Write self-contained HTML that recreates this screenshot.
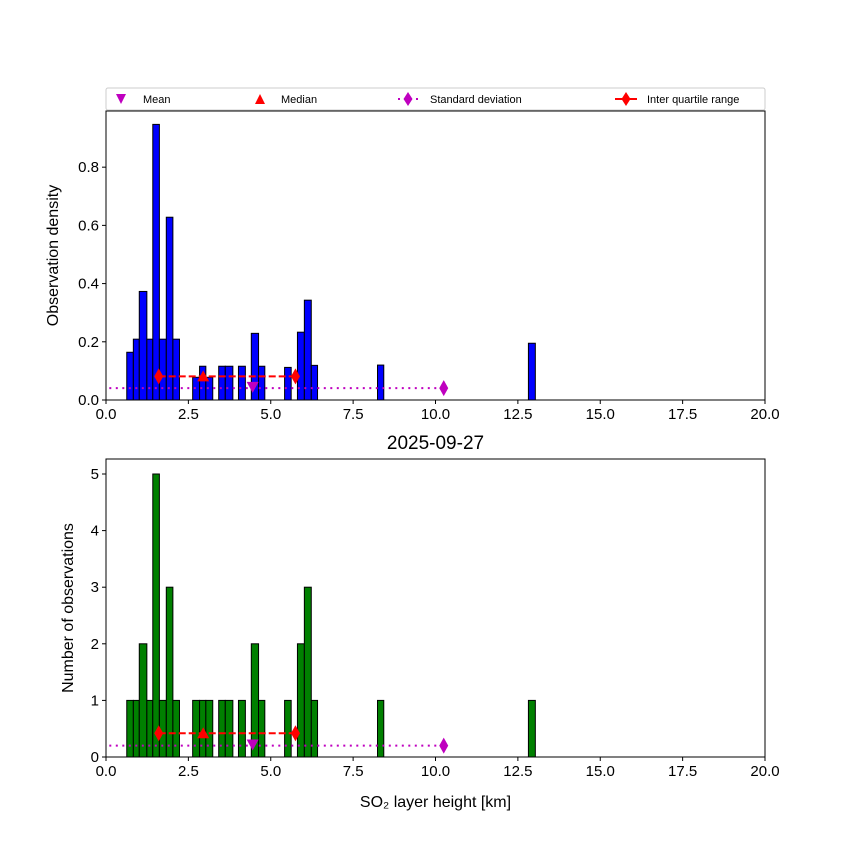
<!DOCTYPE html>
<html><head><meta charset="utf-8"><style>
html,body{margin:0;padding:0;background:#fff}
svg text{font-family:"Liberation Sans","DejaVu Sans",sans-serif}
</style></head><body>
<svg id="c" width="850" height="850" xmlns="http://www.w3.org/2000/svg"></svg>
<script>
const binLeft=[0.63,0.83,1.01,1.24,1.42,1.62,1.83,2.03,2.63,2.84,3.03,3.42,3.62,4.02,4.41,4.63,5.42,5.81,6.02,6.23,8.24,12.82];
const binRight=[0.83,1.01,1.24,1.42,1.62,1.83,2.03,2.23,2.84,3.03,3.24,3.62,3.85,4.23,4.63,4.82,5.62,6.02,6.23,6.42,8.43,13.03];
const counts=[1,1,2,1,5,1,3,1,1,1,1,1,1,1,2,1,1,2,3,1,1,1];
const density=[0.164,0.209,0.373,0.209,0.947,0.209,0.628,0.209,0.078,0.116,0.078,0.116,0.116,0.116,0.229,0.116,0.112,0.233,0.343,0.119,0.12,0.195];
const xTicks=[0,2.5,5,7.5,10,12.5,15,17.5,20];
const xTickLabels=["0.0","2.5","5.0","7.5","10.0","12.5","15.0","17.5","20.0"];
const topYTicks=[0,0.2,0.4,0.6,0.8];
const topYTickLabels=["0.0","0.2","0.4","0.6","0.8"];
const botYTicks=[0,1,2,3,4,5];
const botYTickLabels=["0","1","2","3","4","5"];
const statMean=4.45, statMedian=2.95, statQ1=1.6, statQ3=5.75, statStdStart=0.1, statStdEnd=10.25;
const topStatY={iqr:0.081,std:0.041,mean:0.045};
const botStatY={iqr:0.42,std:0.2,mean:0.22};

const svg=document.getElementById('c');
const NS='http://www.w3.org/2000/svg';
function mk(tag,attrs,parent){const e=document.createElementNS(NS,tag);for(const k in attrs)e.setAttribute(k,attrs[k]);(parent||svg).appendChild(e);return e;}
const X0=106,X1=765;
const xs=v=>X0+(v-0)/(20-0)*(X1-X0);

function panel(name,yTop,yBot,yMax,vals,color,yTicks,yLabels,ylabel,stat,ylx){
  const g=mk('g',{});
  
  
  const ys=v=>yBot-v/yMax*(yBot-yTop);
  for(let i=0;i<vals.length;i++){
    const r=mk('rect',{x:xs(binLeft[i]),y:ys(vals[i]),width:xs(binRight[i])-xs(binLeft[i]),height:yBot-ys(vals[i]),fill:color,stroke:'#000','stroke-width':1},g);
    
    
  }
  const sl=mk('line',{x1:xs(statStdStart),x2:xs(statStdEnd),y1:ys(stat.std),y2:ys(stat.std),stroke:'#bf00bf','stroke-width':2,'stroke-dasharray':'2,4.5'},g);
  
  
  const sd=mk('path',{d:diamond(xs(statStdEnd),ys(stat.std)),fill:'#bf00bf'},g);
  
  
  const il=mk('line',{x1:xs(statQ1),x2:xs(statQ3),y1:ys(stat.iqr),y2:ys(stat.iqr),stroke:'#ff0000','stroke-width':2,'stroke-dasharray':'7,3'},g);
  
  
  [statQ1,statQ3].forEach(q=>{const d=mk('path',{d:diamond(xs(q),ys(stat.iqr)),fill:'#ff0000'},g);
    
    });
  const mx=xs(statMedian),my=ys(stat.iqr);
  const md=mk('path',{d:`M${mx-6},${my+5}L${mx+6},${my+5}L${mx},${my-6}Z`,fill:'#ff0000'},g);
  
  
  const ex=xs(statMean),ey=ys(stat.mean);
  const mn=mk('path',{d:`M${ex-6},${ey-5}L${ex+6},${ey-5}L${ex},${ey+6}Z`,fill:'#bf00bf'},g);
  
  
  const fr=mk('rect',{x:X0,y:yTop,width:X1-X0,height:yBot-yTop,fill:'none',stroke:'#000','stroke-width':1},g);
  
  
  xTicks.forEach((t,i)=>{mk('line',{x1:xs(t),x2:xs(t),y1:yBot,y2:yBot+4,stroke:'#000'},g);
    const tx=mk('text',{x:xs(t),y:yBot+19,'text-anchor':'middle','font-size':15},g);tx.textContent=xTickLabels[i];
    
    });
  yTicks.forEach((t,i)=>{mk('line',{x1:X0-4,x2:X0,y1:ys(t),y2:ys(t),stroke:'#000'},g);
    const tx=mk('text',{x:X0-7,y:ys(t)+5,'text-anchor':'end','font-size':15},g);tx.textContent=yLabels[i];
    
    });
  const yl=mk('text',{x:0,y:0,transform:`translate(${ylx},${(yTop+yBot)/2}) rotate(-90)`,'text-anchor':'middle','font-size':16},g);
  yl.textContent=ylabel;
  
  
}
function diamond(x,y){return `M${x},${y-8}L${x+4.5},${y}L${x},${y+8}L${x-4.5},${y}Z`;}

panel('density-panel',111,400,0.993,density,'#0000ff',topYTicks,topYTickLabels,'Observation density',topStatY,58);
panel('count-panel',459,757,5.265,counts,'#008000',botYTicks,botYTickLabels,'Number of observations',botStatY,73);

const t=mk('text',{x:435.5,y:449,'text-anchor':'middle','font-size':19});t.textContent='2025-09-27';


const xl=mk('text',{x:435.5,y:807,'text-anchor':'middle','font-size':16});xl.textContent='SO₂ layer height [km]';



const lg=mk('g',{});


mk('rect',{x:106,y:88,width:659,height:22,fill:'#fff',stroke:'#ccc','stroke-width':1,rx:2},lg);
const ly=99;
mk('path',{d:`M116,${ly-5}L126,${ly-5}L121,${ly+5}Z`,fill:'#bf00bf'},lg);
mk('path',{d:`M255,${ly+5}L265,${ly+5}L260,${ly-5}Z`,fill:'#ff0000'},lg);
mk('line',{x1:398,x2:418,y1:ly,y2:ly,stroke:'#bf00bf','stroke-width':2,'stroke-dasharray':'2,4'},lg);
mk('path',{d:`M408,${ly-7}L412.5,${ly}L408,${ly+7}L403.5,${ly}Z`,fill:'#bf00bf'},lg);
mk('line',{x1:615,x2:637,y1:ly,y2:ly,stroke:'#ff0000','stroke-width':2},lg);
mk('path',{d:`M626,${ly-7}L630.5,${ly}L626,${ly+7}L621.5,${ly}Z`,fill:'#ff0000'},lg);
[['Mean',143,'legend-mean'],['Median',281,'legend-median'],['Standard deviation',430,'legend-std'],['Inter quartile range',647,'legend-iqr']].forEach(a=>{
  const e=mk('text',{x:a[1],y:ly+4,'font-size':11},lg);e.textContent=a[0];
  
  
});
</script>
</body></html>
